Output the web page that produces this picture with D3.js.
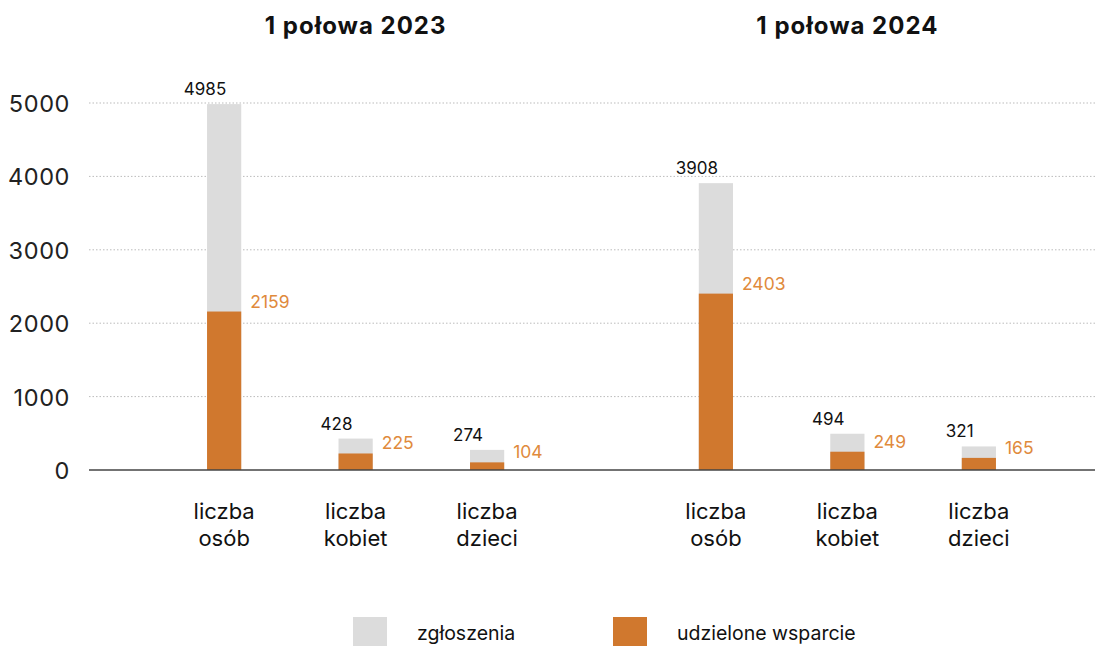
<!DOCTYPE html>
<html><head><meta charset="utf-8">
<script src="https://cdn.jsdelivr.net/npm/d3@7"></script>
<style>body{margin:0;background:#fff}svg{display:block}text{font-family:Inter,"Noto Sans",sans-serif}</style>
</head><body><svg id="c" width="1095" height="646"></svg>
<script>
const facets = ["1 połowa 2023", "1 połowa 2024"];
const categories = ["liczba osób", "liczba kobiet", "liczba dzieci"];
const categoryLines = [["liczba", "osób"], ["liczba", "kobiet"], ["liczba", "dzieci"]];
const zgloszenia = [[4985, 428, 274], [3908, 494, 321]];
const wsparcie = [[2159, 225, 104], [2403, 249, 165]];
const yTicks = [0, 1000, 2000, 3000, 4000, 5000];
const seriesNames = ["zgłoszenia", "udzielone wsparcie"];
const colors = ["#dcdcdc", "#d0782e"];
const labelOrange = "#e08a3c";

const svg = d3.select("#c");
const y = d3.scaleLinear().domain([0, 5000]).range([470, 103]);
const fx = d3.scaleBand().domain(facets).range([109.75, 1093.25]).padding(0);
const x = d3.scaleBand().domain(categories).range([0, fx.bandwidth()]).padding(0.74);

// grid
svg.append("g").selectAll("line").data(yTicks.filter(d => d > 0)).join("line")
  .attr("x1", 89).attr("x2", 1095).attr("y1", d => y(d)).attr("y2", d => y(d))
  .attr("stroke", "#bbb").attr("stroke-width", 1).attr("stroke-dasharray", "1.5,2");

// y axis labels
const yAxis = d3.axisLeft(y).tickValues(yTicks).tickSize(0).tickPadding(0).tickFormat(d3.format("d"));
const ya = svg.append("g").attr("transform", "translate(70,0)").call(yAxis);
ya.select(".domain").remove();
ya.selectAll("text").attr("font-size", 23.5).attr("letter-spacing", 0.6).attr("fill", "#222")
  .attr("font-family", "Inter,'Noto Sans',sans-serif").attr("dy", "0.36em");

// titles
svg.selectAll(".title").data(facets).join("text")
  .attr("x", d => fx(d) + fx.bandwidth() / 2).attr("y", 34)
  .attr("text-anchor", "middle").attr("font-size", 24).attr("letter-spacing", 1)
  .attr("font-weight", 700).attr("fill", "#111")
  .text(d => d);

facets.forEach((f, fi) => {
  const g = svg.append("g").attr("transform", `translate(${fx(f)},0)`);
  const rows = categories.map((c, i) => ({c, i, tot: zgloszenia[fi][i], sup: wsparcie[fi][i]}));
  g.selectAll(".tot").data(rows).join("rect")
    .attr("x", d => x(d.c)).attr("width", x.bandwidth())
    .attr("y", d => y(d.tot)).attr("height", d => y(0) - y(d.tot)).attr("fill", colors[0]);
  g.selectAll(".sup").data(rows).join("rect")
    .attr("x", d => x(d.c)).attr("width", x.bandwidth())
    .attr("y", d => y(d.sup)).attr("height", d => y(0) - y(d.sup)).attr("fill", colors[1]);
  g.selectAll(".tl").data(rows).join("text")
    .attr("x", d => x(d.c) - 2).attr("y", d => y(d.tot) - 9)
    .attr("text-anchor", "middle").attr("font-size", 17).attr("fill", "#111").text(d => d.tot);
  g.selectAll(".sl").data(rows).join("text")
    .attr("x", d => x(d.c) + x.bandwidth() + 9).attr("y", d => y(d.sup) - 4)
    .attr("font-size", 17.5).attr("fill", labelOrange).text(d => d.sup);
  g.selectAll(".cl").data(rows).join("text")
    .attr("x", d => x(d.c) + x.bandwidth() / 2).attr("y", 519)
    .attr("text-anchor", "middle").attr("font-size", 22).attr("fill", "#111")
    .selectAll("tspan").data(d => categoryLines[d.i]).join("tspan")
    .attr("x", function() { return d3.select(this.parentNode).attr("x"); })
    .attr("dy", (d, i) => i === 0 ? 0 : 27).text(d => d);
});

// axis baseline
svg.append("line").attr("x1", 89).attr("x2", 1095).attr("y1", y(0)).attr("y2", y(0))
  .attr("stroke", "#444").attr("stroke-width", 1.5);

// legend
const legendX = [353, 613];
const lg = svg.append("g");
seriesNames.forEach((s, i) => {
  lg.append("rect").attr("x", legendX[i]).attr("y", 617).attr("width", 34).attr("height", 34).attr("fill", colors[i]);
  lg.append("text").attr("x", legendX[i] + 64).attr("y", 640).attr("font-size", 19.5).attr("fill", "#111").text(s);
});
</script></body></html>
